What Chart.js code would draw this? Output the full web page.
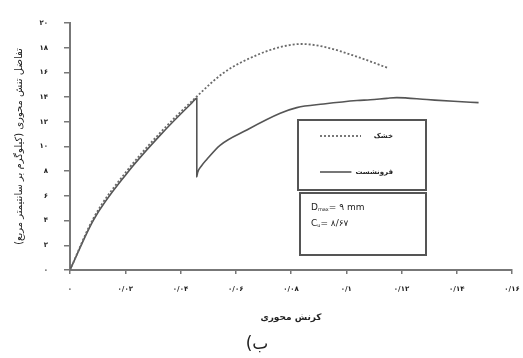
<!DOCTYPE html>
<html>
<head>
<meta charset="utf-8">
<script src="https://cdn.jsdelivr.net/npm/chart.js@4/dist/chart.umd.min.js"></script>
<style>
  html, body { margin: 0; padding: 0; background: #fff; }
  #wrap { width: 523px; height: 358px; position: relative; }
</style>
</head>
<body>
<div id="wrap"><canvas id="c" width="523" height="358"></canvas></div>
<script>
// Axial strain (x) and deviator stress (y) for the dry specimen
const strainDry = [0, 0.0085, 0.0205, 0.0326, 0.0459, 0.0555, 0.0676, 0.0770, 0.0840, 0.0918, 0.1039, 0.1152];
const stressDry = [0, 4.2, 8.0, 11.1, 14.05, 15.95, 17.4, 18.1, 18.3, 18.08, 17.27, 16.35];

// Same quantities for the subsidence (wetted) specimen, with the sudden drop on wetting
const strainSat = [0, 0.0085, 0.0205, 0.0326, 0.0440, 0.0459, 0.0459, 0.0462, 0.0475, 0.0495, 0.0543, 0.0640, 0.0761, 0.0821, 0.0918, 0.1039, 0.1087, 0.1147, 0.1183, 0.1292, 0.1389, 0.1479];
const stressSat = [0, 4.05, 7.8, 10.9, 13.5, 13.9, 7.55, 7.9, 8.4, 8.95, 10.1, 11.34, 12.69, 13.15, 13.44, 13.72, 13.78, 13.9, 13.96, 13.8, 13.66, 13.55];

const seriesNames = ['خشک', 'فرونشست'];

const xTickLabels = ['۰', '۰/۰۲', '۰/۰۴', '۰/۰۶', '۰/۰۸', '۰/۱', '۰/۱۲', '۰/۱۴', '۰/۱۶'];
const yTickLabels = ['۰', '۲', '۴', '۶', '۸', '۱۰', '۱۲', '۱۴', '۱۶', '۱۸', '۲۰'];

const xTitle = 'کرنش محوری';
const yTitle = 'تفاضل تنش محوری (کیلوگرم بر سانتیمتر مربع)';
const caption = 'ب)';

// Specimen parameters shown in the lower box: [main, subscript, rest]
const infoLines = [
  ['D', 'max', '= ۹ mm'],
  ['C', 'u', '= ۸/۶۷']
];

const FONT = '"DejaVu Sans", sans-serif';
const toPoints = (xs, ys) => xs.map((x, i) => ({ x: x, y: ys[i] }));

// Boxed legend and parameter panel drawn on top of the plot
const legendBoxes = {
  id: 'legendBoxes',
  afterDraw(chart) {
    const ctx = chart.ctx;
    const ds = chart.data.datasets;
    ctx.save();
    ctx.lineWidth = 2;
    ctx.strokeStyle = '#555';
    ctx.fillStyle = '#fff';
    ctx.fillRect(298, 120, 128, 70);
    ctx.strokeRect(298, 120, 128, 70);
    ctx.fillRect(300, 193, 126, 62);
    ctx.strokeRect(300, 193, 126, 62);

    const rows = [136, 172];
    const textRight = 393;
    ds.forEach((d, i) => {
      ctx.font = 'bold 7px ' + FONT;
      ctx.direction = 'rtl';
      const textLeft = textRight - ctx.measureText(d.label).width;
      const lineEnd = Math.min(361, textLeft - 4);

      ctx.beginPath();
      ctx.lineWidth = d.borderWidth;
      ctx.strokeStyle = d.borderColor;
      ctx.setLineDash(d.borderDash || []);
      ctx.moveTo(320, rows[i]);
      ctx.lineTo(lineEnd, rows[i]);
      ctx.stroke();
      ctx.setLineDash([]);

      ctx.fillStyle = '#222';
      ctx.textAlign = 'right';
      ctx.textBaseline = 'middle';
      ctx.fillText(d.label, textRight, rows[i]);
      ctx.direction = 'ltr';
    });

    const infoY = [208, 224];
    ctx.textAlign = 'left';
    ctx.textBaseline = 'middle';
    ctx.fillStyle = '#222';
    infoLines.forEach((parts, i) => {
      let x = 311;
      ctx.font = '9px ' + FONT;
      ctx.fillText(parts[0], x, infoY[i]);
      x += ctx.measureText(parts[0]).width;
      ctx.font = '5px ' + FONT;
      ctx.fillText(parts[1], x, infoY[i] + 2);
      x += ctx.measureText(parts[1]).width;
      ctx.font = '9px ' + FONT;
      ctx.fillText(parts[2], x, infoY[i]);
    });

    // figure caption
    ctx.font = '17px ' + FONT;
    ctx.textAlign = 'center';
    ctx.direction = 'rtl';
    ctx.fillStyle = '#222';
    ctx.fillText(caption, 257, 345);
    ctx.restore();
  }
};

new Chart(document.getElementById('c'), {
  type: 'line',
  data: {
    datasets: [
      {
        label: seriesNames[0],
        data: toPoints(strainDry, stressDry),
        borderColor: '#6a6a6a',
        borderWidth: 1.8,
        borderDash: [2, 2],
        pointRadius: 0,
        cubicInterpolationMode: 'monotone',
        fill: false
      },
      {
        label: seriesNames[1],
        data: toPoints(strainSat, stressSat),
        borderColor: '#555',
        borderWidth: 1.6,
        pointRadius: 0,
        cubicInterpolationMode: 'monotone',
        fill: false
      }
    ]
  },
  options: {
    responsive: false,
    animation: false,
    events: [],
    layout: { padding: { left: 0, right: 0, top: 23, bottom: 0 } },
    plugins: { legend: { display: false }, tooltip: { enabled: false } },
    scales: {
      x: {
        type: 'linear',
        min: 0,
        max: 0.16,
        afterFit(s) { s.height = 88; s.paddingRight = 11; s.paddingLeft = 0; },
        border: { color: '#777', width: 2 },
        grid: { drawOnChartArea: false, drawTicks: true, tickLength: 4, color: '#777', lineWidth: 1.5 },
        ticks: {
          stepSize: 0.02,
          autoSkip: false,
          maxRotation: 0,
          padding: 11,
          color: '#222',
          font: { family: FONT, size: 7, weight: 'bold' },
          callback: (v) => xTickLabels[Math.round(v / 0.02)]
        },
        title: {
          display: true,
          text: xTitle,
          color: '#222',
          font: { family: FONT, size: 9, weight: 'bold' },
          padding: { top: 0, bottom: 35 }
        }
      },
      y: {
        type: 'linear',
        min: 0,
        max: 20,
        afterFit(s) { s.width = 70; },
        border: { color: '#777', width: 2 },
        grid: { drawOnChartArea: false, drawTicks: true, tickLength: 6, color: '#777', lineWidth: 1.5 },
        ticks: {
          stepSize: 2,
          autoSkip: false,
          padding: 16,
          color: '#222',
          font: { family: FONT, size: 7, weight: 'bold' },
          callback: (v) => yTickLabels[Math.round(v / 2)]
        },
        title: {
          display: true,
          text: yTitle,
          color: '#222',
          font: { family: FONT, size: 10 },
          padding: { top: 13, bottom: 0 }
        }
      }
    }
  },
  plugins: [legendBoxes]
});
</script>
</body>
</html>
